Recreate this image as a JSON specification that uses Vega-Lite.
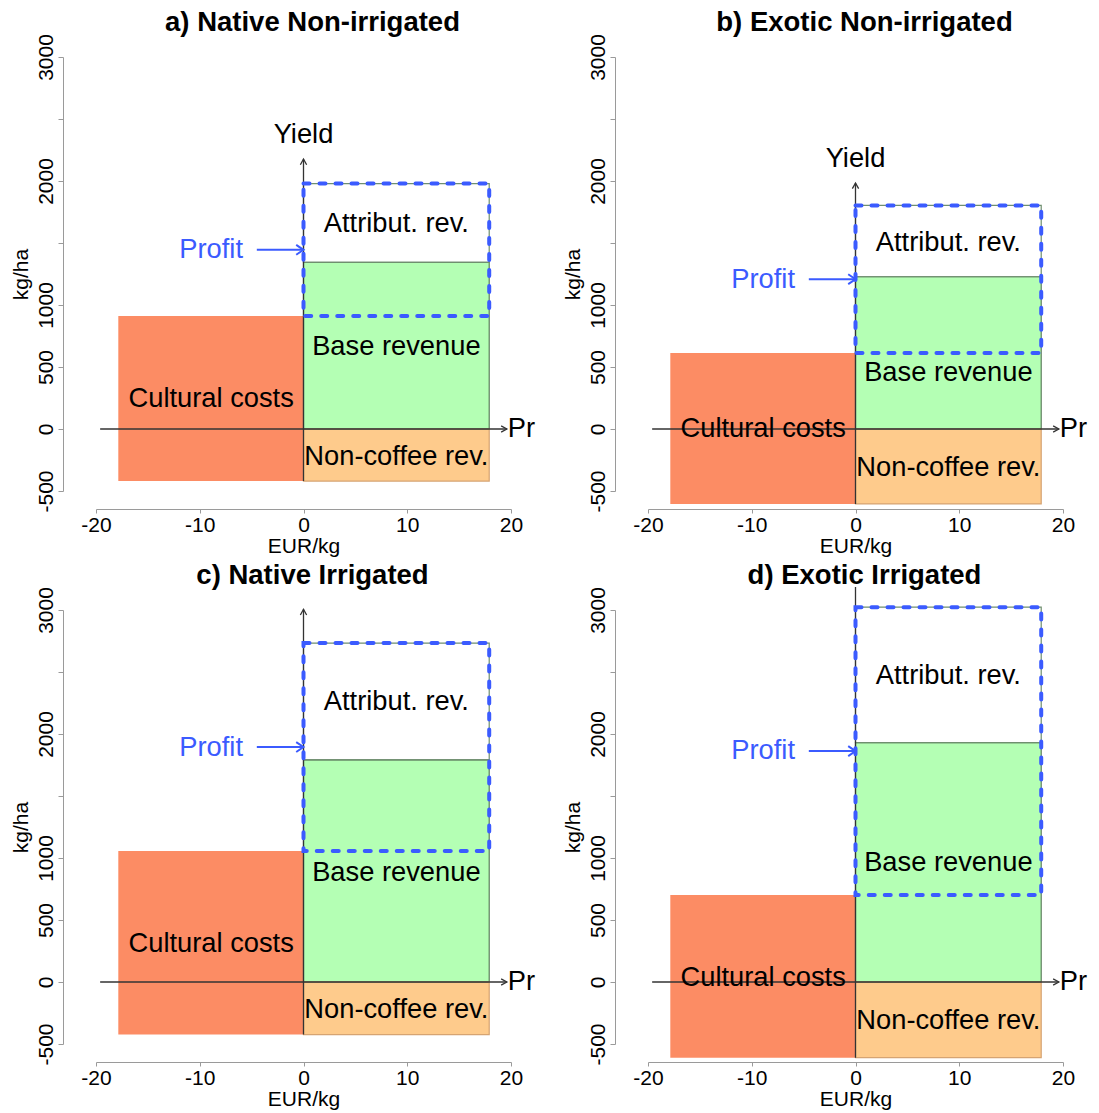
{
  "$schema": "https://vega.github.io/schema/vega-lite/v6.json",
  "padding": {"left": 10, "top": 9, "right": 5, "bottom": 5},
  "config": {"font": "Liberation Sans", "view": {"stroke": null}},
  "datasets": {
    "rows": [
      {"panel": "a", "kind": "rect", "cat": "cc", "x": -17.85, "x2": 0, "y": -420, "y2": 912},
      {"panel": "a", "kind": "rect", "cat": "base", "x": 0, "x2": 17.9, "y": 0, "y2": 1343},
      {"panel": "a", "kind": "rect", "cat": "nc", "x": 0, "x2": 17.9, "y": -420, "y2": 0},
      {"panel": "a", "kind": "rect", "cat": "attr", "x": 0, "x2": 17.9, "y": 1343, "y2": 1979},
      {"panel": "a", "kind": "profit", "x": 0, "x2": 17.9, "y": 912, "y2": 1979},
      {"panel": "a", "kind": "axisarrow", "x": -19.6, "x2": 19.6, "y": 0, "y2": 0},
      {"panel": "a", "kind": "axisarrow", "x": 0, "x2": 0, "y": -420, "y2": 2177},
      {"panel": "a", "kind": "profitarrow", "x": -4.5, "x2": 0, "y": 1445, "y2": 1445},
      {"panel": "a", "kind": "headright", "x": 19.6, "y": 0},
      {"panel": "a", "kind": "headup", "x": 0, "y": 2177},
      {"panel": "a", "kind": "profithead", "x": 0, "y": 1445},
      {"panel": "a", "kind": "label", "cat": "ink", "label": "Cultural costs", "x": -8.9, "y": 243},
      {"panel": "a", "kind": "label", "cat": "ink", "label": "Base revenue", "x": 8.95, "y": 661},
      {"panel": "a", "kind": "label", "cat": "ink", "label": "Attribut. rev.", "x": 8.95, "y": 1654},
      {"panel": "a", "kind": "label", "cat": "ink", "label": "Non-coffee rev.", "x": 8.95, "y": -224},
      {"panel": "a", "kind": "label", "cat": "profit", "label": "Profit", "x": -8.9, "y": 1440},
      {"panel": "a", "kind": "pr", "label": "Pr", "x": 19.6, "y": 0},
      {"panel": "a", "kind": "yield", "label": "Yield", "x": 0, "y": 2177},

      {"panel": "b", "kind": "rect", "cat": "cc", "x": -17.85, "x2": 0, "y": -604, "y2": 613},
      {"panel": "b", "kind": "rect", "cat": "base", "x": 0, "x2": 17.9, "y": 0, "y2": 1228},
      {"panel": "b", "kind": "rect", "cat": "nc", "x": 0, "x2": 17.9, "y": -604, "y2": 0},
      {"panel": "b", "kind": "rect", "cat": "attr", "x": 0, "x2": 17.9, "y": 1228, "y2": 1803},
      {"panel": "b", "kind": "profit", "x": 0, "x2": 17.9, "y": 613, "y2": 1803},
      {"panel": "b", "kind": "axisarrow", "x": -19.6, "x2": 19.6, "y": 0, "y2": 0},
      {"panel": "b", "kind": "axisarrow", "x": 0, "x2": 0, "y": -604, "y2": 1984},
      {"panel": "b", "kind": "profitarrow", "x": -4.5, "x2": 0, "y": 1208, "y2": 1208},
      {"panel": "b", "kind": "headright", "x": 19.6, "y": 0},
      {"panel": "b", "kind": "headup", "x": 0, "y": 1984},
      {"panel": "b", "kind": "profithead", "x": 0, "y": 1208},
      {"panel": "b", "kind": "label", "cat": "ink", "label": "Cultural costs", "x": -8.9, "y": 4},
      {"panel": "b", "kind": "label", "cat": "ink", "label": "Base revenue", "x": 8.95, "y": 455},
      {"panel": "b", "kind": "label", "cat": "ink", "label": "Attribut. rev.", "x": 8.95, "y": 1501},
      {"panel": "b", "kind": "label", "cat": "ink", "label": "Non-coffee rev.", "x": 8.95, "y": -316},
      {"panel": "b", "kind": "label", "cat": "profit", "label": "Profit", "x": -8.9, "y": 1202},
      {"panel": "b", "kind": "pr", "label": "Pr", "x": 19.6, "y": 0},
      {"panel": "b", "kind": "yield", "label": "Yield", "x": 0, "y": 1984},

      {"panel": "c", "kind": "rect", "cat": "cc", "x": -17.85, "x2": 0, "y": -424, "y2": 1057},
      {"panel": "c", "kind": "rect", "cat": "base", "x": 0, "x2": 17.9, "y": 0, "y2": 1791},
      {"panel": "c", "kind": "rect", "cat": "nc", "x": 0, "x2": 17.9, "y": -424, "y2": 0},
      {"panel": "c", "kind": "rect", "cat": "attr", "x": 0, "x2": 17.9, "y": 1791, "y2": 2733},
      {"panel": "c", "kind": "profit", "x": 0, "x2": 17.9, "y": 1057, "y2": 2733},
      {"panel": "c", "kind": "axisarrow", "x": -19.6, "x2": 19.6, "y": 0, "y2": 0},
      {"panel": "c", "kind": "axisarrow", "x": 0, "x2": 0, "y": -424, "y2": 3006},
      {"panel": "c", "kind": "profitarrow", "x": -4.5, "x2": 0, "y": 1895, "y2": 1895},
      {"panel": "c", "kind": "headright", "x": 19.6, "y": 0},
      {"panel": "c", "kind": "headup", "x": 0, "y": 3006},
      {"panel": "c", "kind": "profithead", "x": 0, "y": 1895},
      {"panel": "c", "kind": "label", "cat": "ink", "label": "Cultural costs", "x": -8.9, "y": 307},
      {"panel": "c", "kind": "label", "cat": "ink", "label": "Base revenue", "x": 8.95, "y": 880},
      {"panel": "c", "kind": "label", "cat": "ink", "label": "Attribut. rev.", "x": 8.95, "y": 2255},
      {"panel": "c", "kind": "label", "cat": "ink", "label": "Non-coffee rev.", "x": 8.95, "y": -223},
      {"panel": "c", "kind": "label", "cat": "profit", "label": "Profit", "x": -8.9, "y": 1891},
      {"panel": "c", "kind": "pr", "label": "Pr", "x": 19.6, "y": 0},

      {"panel": "d", "kind": "rect", "cat": "cc", "x": -17.85, "x2": 0, "y": -610, "y2": 702},
      {"panel": "d", "kind": "rect", "cat": "base", "x": 0, "x2": 17.9, "y": 0, "y2": 1931},
      {"panel": "d", "kind": "rect", "cat": "nc", "x": 0, "x2": 17.9, "y": -610, "y2": 0},
      {"panel": "d", "kind": "rect", "cat": "attr", "x": 0, "x2": 17.9, "y": 1931, "y2": 3023},
      {"panel": "d", "kind": "profit", "x": 0, "x2": 17.9, "y": 702, "y2": 3023},
      {"panel": "d", "kind": "axisarrow", "x": -19.6, "x2": 19.6, "y": 0, "y2": 0},
      {"panel": "d", "kind": "axisarrow", "x": 0, "x2": 0, "y": -610, "y2": 3186},
      {"panel": "d", "kind": "profitarrow", "x": -4.5, "x2": 0, "y": 1862, "y2": 1862},
      {"panel": "d", "kind": "headright", "x": 19.6, "y": 0},
      {"panel": "d", "kind": "profithead", "x": 0, "y": 1862},
      {"panel": "d", "kind": "label", "cat": "ink", "label": "Cultural costs", "x": -8.9, "y": 34},
      {"panel": "d", "kind": "label", "cat": "ink", "label": "Base revenue", "x": 8.95, "y": 960},
      {"panel": "d", "kind": "label", "cat": "ink", "label": "Attribut. rev.", "x": 8.95, "y": 2470},
      {"panel": "d", "kind": "label", "cat": "ink", "label": "Non-coffee rev.", "x": 8.95, "y": -315},
      {"panel": "d", "kind": "label", "cat": "profit", "label": "Profit", "x": -8.9, "y": 1860},
      {"panel": "d", "kind": "pr", "label": "Pr", "x": 19.6, "y": 0}
    ]
  },
  "data": {"name": "rows"},
  "columns": 2,
  "spacing": {"row": 119, "column": 137},
  "bounds": "flush",
  "concat": [
    {
      "width": 415, "height": 434,
      "title": {"text": "a) Native Non-irrigated", "fontSize": 27.5, "fontWeight": "bold", "frame": "group", "anchor": "middle", "baseline": "alphabetic", "offset": -25, "dx": 9, "color": "#000"},
      "transform": [{"filter": "datum.panel == 'a'"}],
      "encoding": {
        "x": {"field": "x", "type": "quantitative", "scale": {"domain": [-20, 20], "nice": false, "zero": false},
          "axis": {"title": "EUR/kg", "values": [-20, -10, 0, 10, 20], "labelExpr": "'' + datum.value", "grid": false, "offset": 18, "domainColor": "#9a9a9a", "tickColor": "#9a9a9a", "tickSize": 4, "labelFontSize": 21, "labelColor": "#000", "labelPadding": 1, "titleFontSize": 21, "titleFontWeight": "normal", "titleColor": "#000", "titlePadding": 0, "labelFlush": false, "labelOverlap": false}},
        "y": {"field": "y", "type": "quantitative", "scale": {"domain": [-500, 3000], "nice": false, "zero": false},
          "axis": {"title": "kg/ha", "values": [-500, 0, 500, 1000, 1500, 2000, 2500, 3000], "labelExpr": "datum.value == 1500 || datum.value == 2500 ? '' : '' + datum.value", "grid": false, "offset": 33, "domainColor": "#9a9a9a", "tickColor": "#9a9a9a", "tickSize": 5, "labelFontSize": 21, "labelAngle": -90, "labelAlign": "center", "labelBaseline": "alphabetic", "labelPadding": 6, "labelColor": "#000", "titleFontSize": 21, "titleFontWeight": "normal", "titleColor": "#000", "titlePadding": 4, "labelFlush": false, "labelOverlap": false}}
      },
      "layer": [
        {"transform": [{"filter": "datum.kind == 'rect'"}], "mark": {"type": "rect"},
         "encoding": {"x2": {"field": "x2"}, "y2": {"field": "y2"},
           "fill": {"field": "cat", "type": "nominal", "scale": {"domain": ["cc", "base", "nc", "attr"], "range": ["#fc8c64", "#b4ffb4", "#fecb8c", "#ffffff"]}, "legend": null}}},
        {"transform": [{"filter": "datum.kind == 'rect' && datum.cat != 'cc'"}], "mark": {"type": "rect", "filled": false, "strokeWidth": 1.2},
         "encoding": {"x2": {"field": "x2"}, "y2": {"field": "y2"},
           "stroke": {"field": "cat", "type": "nominal", "scale": {"domain": ["base", "nc", "attr"], "range": ["#5f7f5f", "#d6a472", "#6f8f6f"]}, "legend": null}}},
        {"transform": [{"filter": "datum.kind == 'axisarrow'"}], "mark": {"type": "rule", "color": "#333333", "strokeWidth": 1.3},
         "encoding": {"x2": {"field": "x2"}, "y2": {"field": "y2"}}},
        {"transform": [{"filter": "datum.kind == 'profit'"}], "mark": {"type": "rect", "filled": false, "stroke": "#3b5bff", "strokeWidth": 4, "strokeDash": [6, 10], "strokeCap": "round"},
         "encoding": {"x2": {"field": "x2"}, "y2": {"field": "y2"}}},
        {"transform": [{"filter": "datum.kind == 'profitarrow'"}], "mark": {"type": "rule", "color": "#3b5bff", "strokeWidth": 2},
         "encoding": {"x2": {"field": "x2"}, "y2": {"field": "y2"}}},
        {"transform": [{"filter": "datum.kind == 'headright'"}], "mark": {"type": "point", "shape": "M-1,-0.55L0,0L-1,0.55", "filled": false, "size": 130, "color": "#333333", "strokeWidth": 1.3, "opacity": 1},
         "encoding": {}},
        {"transform": [{"filter": "datum.kind == 'headup'"}], "mark": {"type": "point", "shape": "M-0.55,1L0,0L0.55,1", "filled": false, "size": 130, "color": "#333333", "strokeWidth": 1.3, "opacity": 1},
         "encoding": {}},
        {"transform": [{"filter": "datum.kind == 'profithead'"}], "mark": {"type": "point", "shape": "M-1,-0.68L0,0L-1,0.68", "filled": false, "size": 213, "color": "#3b5bff", "strokeWidth": 2, "opacity": 1},
         "encoding": {}},
        {"transform": [{"filter": "datum.kind == 'label'"}], "mark": {"type": "text", "fontSize": 27.3, "align": "center", "baseline": "middle"},
         "encoding": {"text": {"field": "label"},
           "color": {"field": "cat", "type": "nominal", "scale": {"domain": ["ink", "profit"], "range": ["#000000", "#3b5bff"]}, "legend": null}}},
        {"transform": [{"filter": "datum.kind == 'pr'"}], "mark": {"type": "text", "fontSize": 27.3, "align": "left", "baseline": "middle", "dx": 1, "color": "#000"},
         "encoding": {"text": {"field": "label"}}},
        {"transform": [{"filter": "datum.kind == 'yield'"}], "mark": {"type": "text", "fontSize": 27.3, "align": "center", "baseline": "alphabetic", "dy": -16, "color": "#000"},
         "encoding": {"text": {"field": "label"}}}
      ]
    },
    {
      "width": 415, "height": 434,
      "title": {"text": "b) Exotic Non-irrigated", "fontSize": 27.5, "fontWeight": "bold", "frame": "group", "anchor": "middle", "baseline": "alphabetic", "offset": -25, "dx": 9, "color": "#000"},
      "transform": [{"filter": "datum.panel == 'b'"}],
      "encoding": {
        "x": {"field": "x", "type": "quantitative", "scale": {"domain": [-20, 20], "nice": false, "zero": false},
          "axis": {"title": "EUR/kg", "values": [-20, -10, 0, 10, 20], "labelExpr": "'' + datum.value", "grid": false, "offset": 18, "domainColor": "#9a9a9a", "tickColor": "#9a9a9a", "tickSize": 4, "labelFontSize": 21, "labelColor": "#000", "labelPadding": 1, "titleFontSize": 21, "titleFontWeight": "normal", "titleColor": "#000", "titlePadding": 0, "labelFlush": false, "labelOverlap": false}},
        "y": {"field": "y", "type": "quantitative", "scale": {"domain": [-500, 3000], "nice": false, "zero": false},
          "axis": {"title": "kg/ha", "values": [-500, 0, 500, 1000, 1500, 2000, 2500, 3000], "labelExpr": "datum.value == 1500 || datum.value == 2500 ? '' : '' + datum.value", "grid": false, "offset": 33, "domainColor": "#9a9a9a", "tickColor": "#9a9a9a", "tickSize": 5, "labelFontSize": 21, "labelAngle": -90, "labelAlign": "center", "labelBaseline": "alphabetic", "labelPadding": 6, "labelColor": "#000", "titleFontSize": 21, "titleFontWeight": "normal", "titleColor": "#000", "titlePadding": 4, "labelFlush": false, "labelOverlap": false}}
      },
      "layer": [
        {"transform": [{"filter": "datum.kind == 'rect'"}], "mark": {"type": "rect"},
         "encoding": {"x2": {"field": "x2"}, "y2": {"field": "y2"},
           "fill": {"field": "cat", "type": "nominal", "scale": {"domain": ["cc", "base", "nc", "attr"], "range": ["#fc8c64", "#b4ffb4", "#fecb8c", "#ffffff"]}, "legend": null}}},
        {"transform": [{"filter": "datum.kind == 'rect' && datum.cat != 'cc'"}], "mark": {"type": "rect", "filled": false, "strokeWidth": 1.2},
         "encoding": {"x2": {"field": "x2"}, "y2": {"field": "y2"},
           "stroke": {"field": "cat", "type": "nominal", "scale": {"domain": ["base", "nc", "attr"], "range": ["#5f7f5f", "#d6a472", "#6f8f6f"]}, "legend": null}}},
        {"transform": [{"filter": "datum.kind == 'axisarrow'"}], "mark": {"type": "rule", "color": "#333333", "strokeWidth": 1.3},
         "encoding": {"x2": {"field": "x2"}, "y2": {"field": "y2"}}},
        {"transform": [{"filter": "datum.kind == 'profit'"}], "mark": {"type": "rect", "filled": false, "stroke": "#3b5bff", "strokeWidth": 4, "strokeDash": [6, 10], "strokeCap": "round"},
         "encoding": {"x2": {"field": "x2"}, "y2": {"field": "y2"}}},
        {"transform": [{"filter": "datum.kind == 'profitarrow'"}], "mark": {"type": "rule", "color": "#3b5bff", "strokeWidth": 2},
         "encoding": {"x2": {"field": "x2"}, "y2": {"field": "y2"}}},
        {"transform": [{"filter": "datum.kind == 'headright'"}], "mark": {"type": "point", "shape": "M-1,-0.55L0,0L-1,0.55", "filled": false, "size": 130, "color": "#333333", "strokeWidth": 1.3, "opacity": 1},
         "encoding": {}},
        {"transform": [{"filter": "datum.kind == 'headup'"}], "mark": {"type": "point", "shape": "M-0.55,1L0,0L0.55,1", "filled": false, "size": 130, "color": "#333333", "strokeWidth": 1.3, "opacity": 1},
         "encoding": {}},
        {"transform": [{"filter": "datum.kind == 'profithead'"}], "mark": {"type": "point", "shape": "M-1,-0.68L0,0L-1,0.68", "filled": false, "size": 213, "color": "#3b5bff", "strokeWidth": 2, "opacity": 1},
         "encoding": {}},
        {"transform": [{"filter": "datum.kind == 'label'"}], "mark": {"type": "text", "fontSize": 27.3, "align": "center", "baseline": "middle"},
         "encoding": {"text": {"field": "label"},
           "color": {"field": "cat", "type": "nominal", "scale": {"domain": ["ink", "profit"], "range": ["#000000", "#3b5bff"]}, "legend": null}}},
        {"transform": [{"filter": "datum.kind == 'pr'"}], "mark": {"type": "text", "fontSize": 27.3, "align": "left", "baseline": "middle", "dx": 1, "color": "#000"},
         "encoding": {"text": {"field": "label"}}},
        {"transform": [{"filter": "datum.kind == 'yield'"}], "mark": {"type": "text", "fontSize": 27.3, "align": "center", "baseline": "alphabetic", "dy": -16, "color": "#000"},
         "encoding": {"text": {"field": "label"}}}
      ]
    },
    {
      "width": 415, "height": 434,
      "title": {"text": "c) Native Irrigated", "fontSize": 27.5, "fontWeight": "bold", "frame": "group", "anchor": "middle", "baseline": "alphabetic", "offset": -25, "dx": 9, "color": "#000"},
      "transform": [{"filter": "datum.panel == 'c'"}],
      "encoding": {
        "x": {"field": "x", "type": "quantitative", "scale": {"domain": [-20, 20], "nice": false, "zero": false},
          "axis": {"title": "EUR/kg", "values": [-20, -10, 0, 10, 20], "labelExpr": "'' + datum.value", "grid": false, "offset": 18, "domainColor": "#9a9a9a", "tickColor": "#9a9a9a", "tickSize": 4, "labelFontSize": 21, "labelColor": "#000", "labelPadding": 1, "titleFontSize": 21, "titleFontWeight": "normal", "titleColor": "#000", "titlePadding": 0, "labelFlush": false, "labelOverlap": false}},
        "y": {"field": "y", "type": "quantitative", "scale": {"domain": [-500, 3000], "nice": false, "zero": false},
          "axis": {"title": "kg/ha", "values": [-500, 0, 500, 1000, 1500, 2000, 2500, 3000], "labelExpr": "datum.value == 1500 || datum.value == 2500 ? '' : '' + datum.value", "grid": false, "offset": 33, "domainColor": "#9a9a9a", "tickColor": "#9a9a9a", "tickSize": 5, "labelFontSize": 21, "labelAngle": -90, "labelAlign": "center", "labelBaseline": "alphabetic", "labelPadding": 6, "labelColor": "#000", "titleFontSize": 21, "titleFontWeight": "normal", "titleColor": "#000", "titlePadding": 4, "labelFlush": false, "labelOverlap": false}}
      },
      "layer": [
        {"transform": [{"filter": "datum.kind == 'rect'"}], "mark": {"type": "rect"},
         "encoding": {"x2": {"field": "x2"}, "y2": {"field": "y2"},
           "fill": {"field": "cat", "type": "nominal", "scale": {"domain": ["cc", "base", "nc", "attr"], "range": ["#fc8c64", "#b4ffb4", "#fecb8c", "#ffffff"]}, "legend": null}}},
        {"transform": [{"filter": "datum.kind == 'rect' && datum.cat != 'cc'"}], "mark": {"type": "rect", "filled": false, "strokeWidth": 1.2},
         "encoding": {"x2": {"field": "x2"}, "y2": {"field": "y2"},
           "stroke": {"field": "cat", "type": "nominal", "scale": {"domain": ["base", "nc", "attr"], "range": ["#5f7f5f", "#d6a472", "#6f8f6f"]}, "legend": null}}},
        {"transform": [{"filter": "datum.kind == 'axisarrow'"}], "mark": {"type": "rule", "color": "#333333", "strokeWidth": 1.3},
         "encoding": {"x2": {"field": "x2"}, "y2": {"field": "y2"}}},
        {"transform": [{"filter": "datum.kind == 'profit'"}], "mark": {"type": "rect", "filled": false, "stroke": "#3b5bff", "strokeWidth": 4, "strokeDash": [6, 10], "strokeCap": "round"},
         "encoding": {"x2": {"field": "x2"}, "y2": {"field": "y2"}}},
        {"transform": [{"filter": "datum.kind == 'profitarrow'"}], "mark": {"type": "rule", "color": "#3b5bff", "strokeWidth": 2},
         "encoding": {"x2": {"field": "x2"}, "y2": {"field": "y2"}}},
        {"transform": [{"filter": "datum.kind == 'headright'"}], "mark": {"type": "point", "shape": "M-1,-0.55L0,0L-1,0.55", "filled": false, "size": 130, "color": "#333333", "strokeWidth": 1.3, "opacity": 1},
         "encoding": {}},
        {"transform": [{"filter": "datum.kind == 'headup'"}], "mark": {"type": "point", "shape": "M-0.55,1L0,0L0.55,1", "filled": false, "size": 130, "color": "#333333", "strokeWidth": 1.3, "opacity": 1},
         "encoding": {}},
        {"transform": [{"filter": "datum.kind == 'profithead'"}], "mark": {"type": "point", "shape": "M-1,-0.68L0,0L-1,0.68", "filled": false, "size": 213, "color": "#3b5bff", "strokeWidth": 2, "opacity": 1},
         "encoding": {}},
        {"transform": [{"filter": "datum.kind == 'label'"}], "mark": {"type": "text", "fontSize": 27.3, "align": "center", "baseline": "middle"},
         "encoding": {"text": {"field": "label"},
           "color": {"field": "cat", "type": "nominal", "scale": {"domain": ["ink", "profit"], "range": ["#000000", "#3b5bff"]}, "legend": null}}},
        {"transform": [{"filter": "datum.kind == 'pr'"}], "mark": {"type": "text", "fontSize": 27.3, "align": "left", "baseline": "middle", "dx": 1, "color": "#000"},
         "encoding": {"text": {"field": "label"}}}
      ]
    },
    {
      "width": 415, "height": 434,
      "title": {"text": "d) Exotic Irrigated", "fontSize": 27.5, "fontWeight": "bold", "frame": "group", "anchor": "middle", "baseline": "alphabetic", "offset": -25, "dx": 9, "color": "#000"},
      "transform": [{"filter": "datum.panel == 'd'"}],
      "encoding": {
        "x": {"field": "x", "type": "quantitative", "scale": {"domain": [-20, 20], "nice": false, "zero": false},
          "axis": {"title": "EUR/kg", "values": [-20, -10, 0, 10, 20], "labelExpr": "'' + datum.value", "grid": false, "offset": 18, "domainColor": "#9a9a9a", "tickColor": "#9a9a9a", "tickSize": 4, "labelFontSize": 21, "labelColor": "#000", "labelPadding": 1, "titleFontSize": 21, "titleFontWeight": "normal", "titleColor": "#000", "titlePadding": 0, "labelFlush": false, "labelOverlap": false}},
        "y": {"field": "y", "type": "quantitative", "scale": {"domain": [-500, 3000], "nice": false, "zero": false},
          "axis": {"title": "kg/ha", "values": [-500, 0, 500, 1000, 1500, 2000, 2500, 3000], "labelExpr": "datum.value == 1500 || datum.value == 2500 ? '' : '' + datum.value", "grid": false, "offset": 33, "domainColor": "#9a9a9a", "tickColor": "#9a9a9a", "tickSize": 5, "labelFontSize": 21, "labelAngle": -90, "labelAlign": "center", "labelBaseline": "alphabetic", "labelPadding": 6, "labelColor": "#000", "titleFontSize": 21, "titleFontWeight": "normal", "titleColor": "#000", "titlePadding": 4, "labelFlush": false, "labelOverlap": false}}
      },
      "layer": [
        {"transform": [{"filter": "datum.kind == 'rect'"}], "mark": {"type": "rect"},
         "encoding": {"x2": {"field": "x2"}, "y2": {"field": "y2"},
           "fill": {"field": "cat", "type": "nominal", "scale": {"domain": ["cc", "base", "nc", "attr"], "range": ["#fc8c64", "#b4ffb4", "#fecb8c", "#ffffff"]}, "legend": null}}},
        {"transform": [{"filter": "datum.kind == 'rect' && datum.cat != 'cc'"}], "mark": {"type": "rect", "filled": false, "strokeWidth": 1.2},
         "encoding": {"x2": {"field": "x2"}, "y2": {"field": "y2"},
           "stroke": {"field": "cat", "type": "nominal", "scale": {"domain": ["base", "nc", "attr"], "range": ["#5f7f5f", "#d6a472", "#6f8f6f"]}, "legend": null}}},
        {"transform": [{"filter": "datum.kind == 'axisarrow'"}], "mark": {"type": "rule", "color": "#333333", "strokeWidth": 1.3},
         "encoding": {"x2": {"field": "x2"}, "y2": {"field": "y2"}}},
        {"transform": [{"filter": "datum.kind == 'profit'"}], "mark": {"type": "rect", "filled": false, "stroke": "#3b5bff", "strokeWidth": 4, "strokeDash": [6, 10], "strokeCap": "round"},
         "encoding": {"x2": {"field": "x2"}, "y2": {"field": "y2"}}},
        {"transform": [{"filter": "datum.kind == 'profitarrow'"}], "mark": {"type": "rule", "color": "#3b5bff", "strokeWidth": 2},
         "encoding": {"x2": {"field": "x2"}, "y2": {"field": "y2"}}},
        {"transform": [{"filter": "datum.kind == 'headright'"}], "mark": {"type": "point", "shape": "M-1,-0.55L0,0L-1,0.55", "filled": false, "size": 130, "color": "#333333", "strokeWidth": 1.3, "opacity": 1},
         "encoding": {}},
        {"transform": [{"filter": "datum.kind == 'profithead'"}], "mark": {"type": "point", "shape": "M-1,-0.68L0,0L-1,0.68", "filled": false, "size": 213, "color": "#3b5bff", "strokeWidth": 2, "opacity": 1},
         "encoding": {}},
        {"transform": [{"filter": "datum.kind == 'label'"}], "mark": {"type": "text", "fontSize": 27.3, "align": "center", "baseline": "middle"},
         "encoding": {"text": {"field": "label"},
           "color": {"field": "cat", "type": "nominal", "scale": {"domain": ["ink", "profit"], "range": ["#000000", "#3b5bff"]}, "legend": null}}},
        {"transform": [{"filter": "datum.kind == 'pr'"}], "mark": {"type": "text", "fontSize": 27.3, "align": "left", "baseline": "middle", "dx": 1, "color": "#000"},
         "encoding": {"text": {"field": "label"}}}
      ]
    }
  ]
}
